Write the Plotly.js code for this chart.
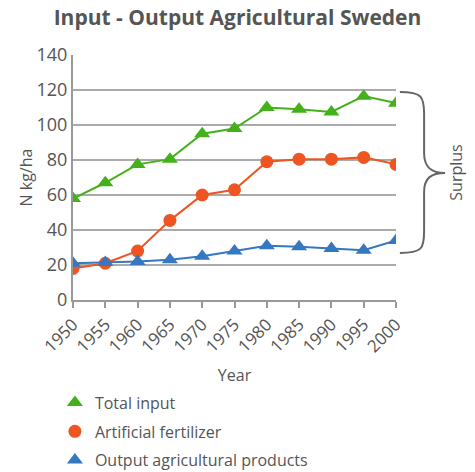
<!DOCTYPE html>
<html><head><meta charset="utf-8">
<script src="https://cdn.plot.ly/plotly-3.0.1.min.js"></script>
<style>html,body{margin:0;padding:0;background:#fff}#chart{width:475px;height:472px}</style>
</head><body><div id="chart"></div>
<script>
var years = [1950,1955,1960,1965,1970,1975,1980,1985,1990,1995,2000];
var totalInput = [58,67,77.5,80.5,95,98,110,109,107.5,116.5,112.5];
var artificialFertilizer = [18,21,28,45.5,60,63,79,80.5,80.5,81.5,77.5];
var outputProducts = [21,21.5,22,23,25,28,31,30.5,29.5,28.5,34];
var seriesNames = ['Total input','Artificial fertilizer','Output agricultural products'];
var yTicks = [0,20,40,60,80,100,120,140];

var fontFam = 'Open Sans, Liberation Sans, Arial, sans-serif';
var txt = '#555555';
var colors = ['#44b01a','#ee5522','#3577c0'];
var symbols = ['triangle-up','circle','triangle-up'];
var sizes = [14,13,14];
var data = [totalInput, artificialFertilizer, outputProducts];
var traces = [];
data.forEach(function(d, i){
  traces.push({x: years, y: d, name: seriesNames[i], mode: 'lines+markers', showlegend: false,
    line: {color: colors[i], width: 2}, marker: {symbol: symbols[i], size: sizes[i], color: colors[i]}});
});
data.forEach(function(d, i){
  traces.push({x: [null], y: [null], name: seriesNames[i], mode: 'markers', legendgroup: 'g'+i,
    marker: {symbol: symbols[i], size: sizes[i], color: colors[i]}});
});
var layout = {
  width: 475, height: 472,
  margin: {l: 73, r: 79, t: 55, b: 172},
  paper_bgcolor: '#fff', plot_bgcolor: '#fff',
  font: {family: fontFam, color: txt, size: 16},
  title: {text: '<b>Input - Output Agricultural Sweden</b>', x: 0.5, xanchor: 'center',
          yref: 'container', y: 0.962, yanchor: 'middle',
          font: {size: 21, color: txt, family: fontFam}},
  showlegend: true,
  legend: {orientation: 'v', x: -0.056, xanchor: 'left', yref: 'container', y: 0.183, yanchor: 'top',
           font: {size: 16, color: txt}, itemwidth: 30, tracegroupgap: 5, traceorder: 'grouped'},
  xaxis: {range: [1950, 2000], tickvals: years, ticktext: years.map(String), tickangle: -45,
          showgrid: false, showline: true, linecolor: '#999', linewidth: 2, automargin: false,
          ticks: 'outside', ticklen: 6, tickcolor: '#999', tickwidth: 2,
          tickfont: {size: 17, color: txt}, zeroline: false,
          title: {text: 'Year', font: {size: 16, color: txt}, standoff: 14}},
  yaxis: {range: [0, 140], tickvals: yTicks, showgrid: true, gridcolor: '#aaa', gridwidth: 2,
          showline: true, linecolor: '#999', linewidth: 2, zeroline: false, ticks: '', automargin: false,
          tickfont: {size: 18, color: txt},
          title: {text: 'N kg/ha', font: {size: 16, color: txt}, standoff: 0}},
  shapes: [
    {type: 'path', xref: 'paper', yref: 'paper',
     path: 'M 1.012 0.849 C 1.08 0.849 1.087 0.83 1.087 0.76 L 1.087 0.6 C 1.087 0.54 1.11 0.518 1.152 0.518 C 1.11 0.518 1.087 0.5 1.087 0.44 L 1.087 0.28 C 1.087 0.21 1.08 0.192 1.012 0.192',
     line: {color: '#666', width: 2}}
  ],
  annotations: [
    {text: 'Surplus', xref: 'paper', yref: 'paper', x: 1.183, y: 0.52, textangle: -90,
     showarrow: false, font: {size: 16, color: txt}, xanchor: 'center', yanchor: 'middle'}
  ]
};
Plotly.newPlot('chart', traces, layout, {displayModeBar: false, staticPlot: true});
</script></body></html>
